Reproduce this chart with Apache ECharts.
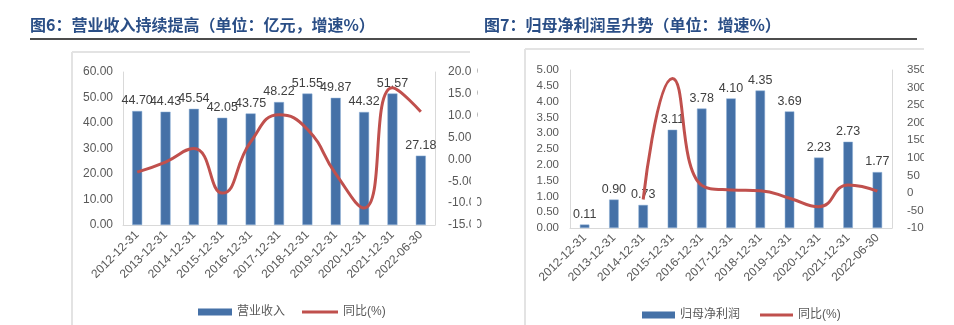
<!DOCTYPE html>
<html><head><meta charset="utf-8">
<script src="https://cdn.jsdelivr.net/npm/echarts@6/dist/echarts.min.js"></script>
<style>html,body{margin:0;padding:0;background:#fff}#c{width:954px;height:325px}</style>
</head><body><div id="c"></div>
<script>
const categories = ['2012-12-31','2013-12-31','2014-12-31','2015-12-31','2016-12-31','2017-12-31','2018-12-31','2019-12-31','2020-12-31','2021-12-31','2022-06-30'];
const revenue = [44.70, 44.43, 45.54, 42.05, 43.75, 48.22, 51.55, 49.87, 44.32, 51.57, 27.18];
const revenueYoY = [-2.9, -0.6, 2.5, -7.7, 4.0, 10.2, 6.9, -3.3, -11.1, 16.4, 10.9];
const profit = [0.11, 0.90, 0.73, 3.11, 3.78, 4.10, 4.35, 3.69, 2.23, 2.73, 1.77];
const profitYoY = [null, null, -18.9, 326, 21.5, 8.5, 6.1, -15.2, -39.6, 22.4, 5];
const title1 = '图6：营业收入持续提高（单位：亿元，增速%）';
const title2 = '图7：归母净利润呈升势（单位：增速%）';

const FONT = '"Liberation Sans", Arial, "Noto Sans CJK SC", sans-serif';
const BLUE = '#4571a7', RED = '#c0504d', GRAY = '#595959', LINE = '#d9d9d9';
const chart = echarts.init(document.getElementById('c'));

function yAx(grid, min, max, interval, digits, pos, margin, size) {
  return {
    type: 'value', gridIndex: grid, min, max, interval, position: pos,
    axisLine: { show: true, lineStyle: { color: LINE } }, axisTick: { show: false },
    splitLine: { show: false },
    axisLabel: { color: GRAY, fontSize: size, fontFamily: FONT, margin,
      formatter: v => digits ? v.toFixed(digits) : String(v) }
  };
}
function xAx(grid) {
  return {
    type: 'category', gridIndex: grid, data: categories,
    axisLine: { lineStyle: { color: LINE } }, axisTick: { show: false },
    axisLabel: { rotate: 45, color: GRAY, fontSize: 12, fontFamily: FONT, margin: 8, interval: 0 }
  };
}
const lbl = { show: true, position: 'top', distance: 4, color: '#404040', fontSize: 12.5, fontFamily: FONT,
  formatter: p => p.value.toFixed(2) };
const legText = { color: GRAY, fontSize: 12, fontFamily: FONT };
const legItem = { borderWidth: 0 };

chart.setOption({
  animation: false,
  title: [
    { text: title1, left: 25, top: 12, textStyle: { color: '#2a4e86', fontSize: 16, fontWeight: 'bold', fontFamily: '"Noto Sans CJK SC", sans-serif' } },
    { text: title2, left: 479, top: 12, textStyle: { color: '#2a4e86', fontSize: 16, fontWeight: 'bold', fontFamily: '"Noto Sans CJK SC", sans-serif' } }
  ],
  grid: [
    { left: 123, right: 519, top: 72, bottom: 100 },
    { left: 570, right: 62, top: 70, bottom: 97 }
  ],
  xAxis: [xAx(0), xAx(1)],
  yAxis: [
    yAx(0, 0, 60, 10, 2, 'left', 10, 12),
    yAx(0, -15, 20, 5, 2, 'right', 13, 12),
    yAx(1, 0, 5, 0.5, 2, 'left', 11, 11.5),
    yAx(1, -100, 350, 50, 0, 'right', 15, 11.5)
  ],
  legend: [
    { left: 193, top: 301, itemWidth: 34, itemHeight: 7, icon: 'rect', data: ['营业收入'], textStyle: legText, itemStyle: legItem },
    { left: 297, top: 301, itemWidth: 36, itemHeight: 3, icon: 'rect', data: ['同比(%)'], textStyle: legText, itemStyle: legItem },
    { left: 637, top: 304, itemWidth: 33, itemHeight: 7, icon: 'rect', data: ['归母净利润'], textStyle: legText, itemStyle: legItem },
    { left: 755, top: 304, itemWidth: 33, itemHeight: 3, icon: 'rect', data: ['同比(%) '], textStyle: legText, itemStyle: legItem }
  ],
  series: [
    { name: '营业收入', type: 'bar', xAxisIndex: 0, yAxisIndex: 0, data: revenue, barWidth: 10,
      itemStyle: { color: BLUE, borderColor: '#8fb0d6', borderWidth: 0.5 }, label: lbl, z: 2 },
    { name: '同比(%)', type: 'line', xAxisIndex: 0, yAxisIndex: 1, data: revenueYoY, smooth: 0.5,
      symbol: 'none', lineStyle: { color: RED, width: 3 }, itemStyle: { color: RED }, z: 3 },
    { name: '归母净利润', type: 'bar', xAxisIndex: 1, yAxisIndex: 2, data: profit, barWidth: 9.5,
      itemStyle: { color: BLUE, borderColor: '#8fb0d6', borderWidth: 0.5 }, label: lbl, z: 2 },
    { name: '同比(%) ', type: 'line', xAxisIndex: 1, yAxisIndex: 3, data: profitYoY, smooth: 0.5,
      symbol: 'none', connectNulls: false, lineStyle: { color: RED, width: 3 }, itemStyle: { color: RED }, z: 3 }
  ],
  graphic: [
    { type: 'rect', shape: { x: 471, y: 55, width: 6, height: 200 }, style: { fill: '#fff' }, z: 100 },
    { type: 'rect', shape: { x: 924, y: 52, width: 30, height: 200 }, style: { fill: '#fff' }, z: 100 },
    { type: 'line', shape: { x1: 30, y1: 39, x2: 477, y2: 39 }, style: { stroke: '#111', lineWidth: 1.5 }, z: 101 },
    { type: 'line', shape: { x1: 477, y1: 39, x2: 917, y2: 39 }, style: { stroke: '#111', lineWidth: 1.5 }, z: 101 },
    { type: 'line', shape: { x1: 72, y1: 52, x2: 470, y2: 52 }, style: { stroke: '#e3e3e3', lineWidth: 2 }, z: 101 },
    { type: 'line', shape: { x1: 72, y1: 52, x2: 72, y2: 325 }, style: { stroke: '#e3e3e3', lineWidth: 2 }, z: 101 },
    { type: 'line', shape: { x1: 525, y1: 49, x2: 924, y2: 49 }, style: { stroke: '#e3e3e3', lineWidth: 2 }, z: 101 },
    { type: 'line', shape: { x1: 525, y1: 49, x2: 525, y2: 325 }, style: { stroke: '#e3e3e3', lineWidth: 2 }, z: 101 }
  ]
});
</script></body></html>
